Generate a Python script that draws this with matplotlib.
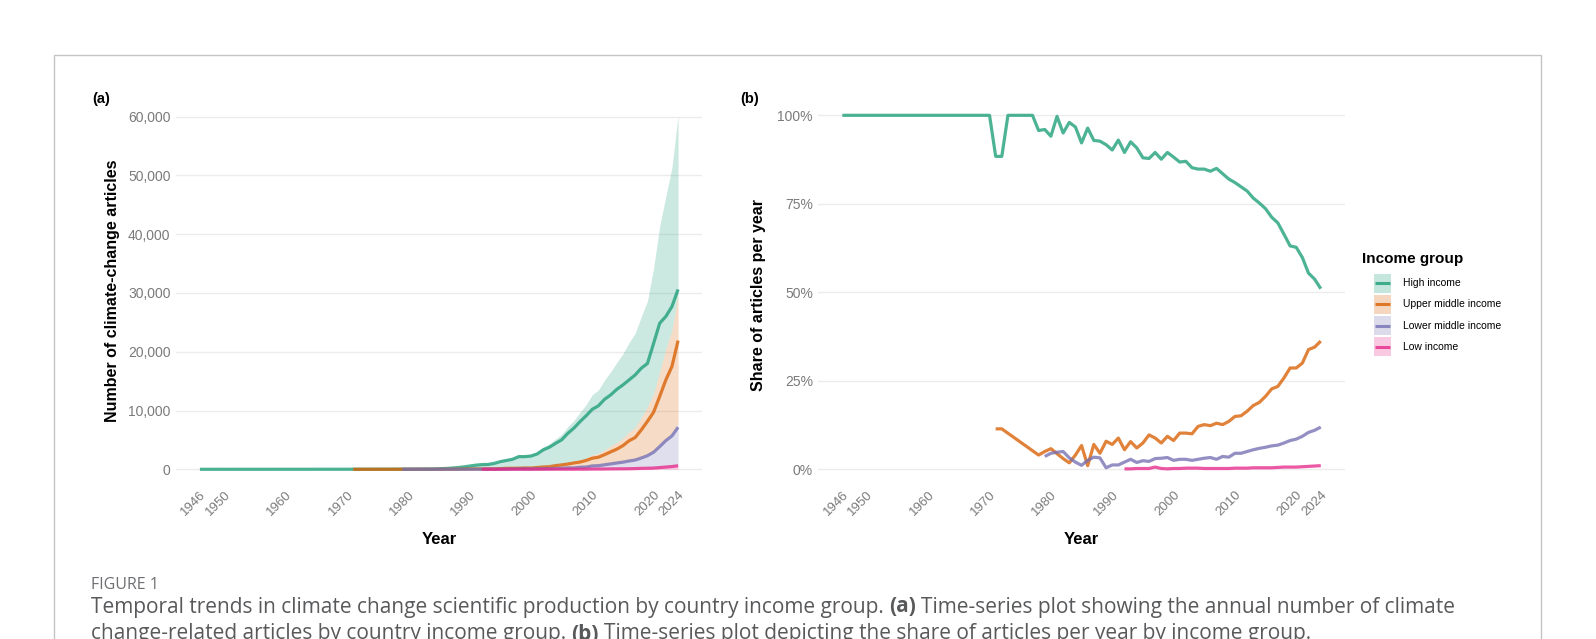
import matplotlib
matplotlib.use("Agg")
import matplotlib.pyplot as plt
from matplotlib.patches import Rectangle
from matplotlib.lines import Line2D
from matplotlib.ticker import FuncFormatter
import numpy as np

plt.rcParams['font.family'] = ['Liberation Sans', 'DejaVu Sans']

groups = ["High income", "Upper middle income", "Lower middle income", "Low income"]
colors = ["#1B9E77", "#D95F02", "#7570B3", "#E7298A"]

# years present for each group
years_high = list(range(1946, 2025))
years_upper = [1971, 1972] + list(range(1978, 2025))
years_lower = list(range(1979, 2025))
years_low = list(range(1992, 2025))

# (a) number of articles per year
count_high = [1, 1, 1, 2, 1, 1, 2, 1, 2, 2, 1, 2, 3, 2, 3, 2, 4, 3, 4, 5, 4, 6, 5, 7,
              8, 8, 8, 9, 10, 12, 14, 15, 22, 24, 32, 40, 38, 49, 58,
              90, 130, 190, 280, 400, 550, 700, 800, 820, 1000, 1300, 1500, 1700, 2150, 2150,
              2250, 2600, 3300, 3750, 4400, 5000, 6100, 7000, 8100, 9100,
              10200, 10800, 11900, 12650, 13600, 14350, 15200, 16050, 17200, 18000,
              21400, 24850, 26000, 27700, 30600]
count_upper = [1, 1, 1, 1, 2, 2, 2, 1, 3, 6, 2, 11, 14, 35,
               45, 65, 50, 70, 65, 110, 165, 170, 180, 225,
               210, 300, 390, 440, 620, 740, 890, 1070, 1230, 1500,
               1880, 2050, 2480, 2960, 3420, 4020, 4850, 5400, 6700, 8150,
               9700, 12400, 15200, 17500, 21900]
count_lower = [1, 1, 2, 2, 2, 1, 1, 3, 5, 9, 2,
               7, 9, 18, 24, 21, 35, 38, 57, 76, 79,
               64, 84, 106, 110, 146, 183, 240, 231, 350, 377,
               570, 610, 760, 910, 1070, 1210, 1410, 1570, 1920, 2310,
               2900, 3860, 4870, 5680, 7150]
count_low = [1, 1, 2, 2, 3, 10, 5, 2, 5, 5, 9, 12, 13, 11, 12, 14, 16, 18, 38, 41,
             46, 66, 72, 78, 86, 115, 155, 171, 205, 290, 375, 465, 600]

# (b) share of articles per year (%)
share_high = [100] * 25 + [88.4, 88.4, 100, 100, 100, 100, 100,
              95.7, 96.0, 94.1, 99.7, 95.0, 98.0, 96.7, 92.2, 96.4, 92.9, 92.7, 91.7,
              90.2, 93.0, 89.5, 92.5, 90.8, 88.0, 87.8, 89.5, 87.6, 89.5,
              88.2, 86.8, 87.0, 85.2, 84.8, 84.8, 84.2, 85.0, 83.5, 82.0,
              81.0, 79.8, 78.6, 76.6, 75.2, 73.6, 71.2, 69.6, 66.4, 63.1,
              62.7, 59.8, 55.4, 53.7, 51.0]
share_upper = [11.4, 11.4, 4.0, 5.0, 5.8, 4.4, 3.0, 1.8, 4.0, 6.7, 1.0, 7.0, 4.5, 7.9,
               7.0, 8.8, 5.5, 7.8, 6.0, 7.4, 9.7, 8.8, 7.4, 9.3,
               8.1, 10.2, 10.2, 10.0, 12.1, 12.6, 12.3, 13.0, 12.6, 13.5,
               14.9, 15.1, 16.4, 18.0, 18.9, 20.6, 22.7, 23.4, 25.8, 28.6,
               28.6, 30.0, 33.8, 34.5, 36.2]
share_lower = [3.6, 4.5, 4.8, 5.0, 3.2, 2.0, 1.1, 2.5, 3.4, 3.2, 0.4,
               1.2, 1.2, 2.0, 2.8, 1.9, 2.4, 2.2, 3.0, 3.1, 3.3,
               2.5, 2.8, 2.8, 2.5, 2.8, 3.1, 3.3, 2.8, 3.6, 3.4,
               4.5, 4.5, 5.0, 5.5, 5.9, 6.2, 6.6, 6.8, 7.4, 8.1,
               8.5, 9.3, 10.4, 11.0, 11.9]
share_low = [0.1, 0.1, 0.2, 0.2, 0.2, 0.6, 0.2, 0.1, 0.2, 0.2, 0.3, 0.3, 0.3, 0.2, 0.2, 0.2,
             0.2, 0.2, 0.3, 0.3, 0.3, 0.4, 0.4, 0.4, 0.4, 0.5, 0.6, 0.6, 0.6, 0.7, 0.8, 0.9, 1.0]

year_ticks = [1946, 1950, 1960, 1970, 1980, 1990, 2000, 2010, 2020, 2024]

all_years = [years_high, years_upper, years_lower, years_low]
all_counts = [count_high, count_upper, count_lower, count_low]
all_shares = [share_high, share_upper, share_lower, share_low]

W, H = 1596, 639
fig = plt.figure(figsize=(W / 100, H / 100), dpi=100)
fig.patch.set_facecolor("white")

# grey frame round the figure
fig.add_artist(Rectangle((54 / W, -0.2), (1541 - 54) / W, 1.2 - 55 / H,
                         transform=fig.transFigure, fill=False, edgecolor="#c4c4c4", lw=1))

ax1 = fig.add_axes([176 / W, 1 - 486.9 / H, 526 / W, 391.4 / H])
ax2 = fig.add_axes([818.4 / W, 1 - 486.9 / H, 526.3 / W, 391.4 / H])

# stacked areas (high on top of upper middle on top of lower middle on top of low)
full = np.array(years_high)
stack = []
for yrs, cnt in zip(all_years, all_counts):
    s = np.zeros(len(full))
    s[np.searchsorted(full, yrs)] = cnt
    stack.append(s)
for i, (yrs, c) in enumerate(zip(all_years, colors)):
    top = np.sum(stack[i:], axis=0)
    bottom = np.sum(stack[i + 1:], axis=0) if i < 3 else np.zeros(len(full))
    mask = full >= yrs[0]
    ax1.fill_between(full[mask], bottom[mask], top[mask], color=c, alpha=0.22, lw=0)

for yrs, cnt, c in zip(all_years, all_counts, colors):
    ax1.plot(yrs, cnt, color=c, lw=2.3, alpha=0.78, solid_capstyle="butt")

for yrs, sh, c in zip(all_years, all_shares, colors):
    ax2.plot(yrs, np.array(sh) / 100, color=c, lw=2.3, alpha=0.78, solid_capstyle="butt")

ax1.set_ylim(-3000, 63600)
ax1.set_yticks([0, 10000, 20000, 30000, 40000, 50000, 60000])
ax1.yaxis.set_major_formatter(FuncFormatter(lambda v, p: f"{int(v):,}"))
ax2.set_ylim(-0.05, 1.056)
ax2.set_yticks([0, 0.25, 0.5, 0.75, 1.0])
ax2.yaxis.set_major_formatter(FuncFormatter(lambda v, p: f"{int(round(v * 100))}%"))

for ax in (ax1, ax2):
    ax.set_xlim(1942.1, 2027.9)
    ax.set_xticks(year_ticks)
    ax.set_xticklabels([str(y) for y in year_ticks], rotation=45, ha="right", va="top",
                       rotation_mode="anchor")
    for s in ax.spines.values():
        s.set_visible(False)
    ax.tick_params(length=0, labelsize=10, labelcolor="#7a7a7a")
    ax.tick_params(axis="x", labelsize=9.5, pad=1)
    ax.tick_params(axis="y", pad=4)
    ax.yaxis.grid(True, color="#ececec", lw=1)
    ax.set_axisbelow(True)
    ax.set_facecolor("none")

fig.text(113 / W, 1 - 291 / H, "Number of climate-change articles", rotation=90,
         ha="center", va="center", fontsize=11.5, fontweight="bold")
fig.text(759 / W, 1 - 295 / H, "Share of articles per year", rotation=90,
         ha="center", va="center", fontsize=11.5, fontweight="bold")
fig.text(439 / W, 1 - 540 / H, "Year", ha="center", va="center", fontsize=12, fontweight="bold")
fig.text(1081 / W, 1 - 540 / H, "Year", ha="center", va="center", fontsize=12, fontweight="bold")
fig.text(92 / W, 1 - 99 / H, "(a)", ha="left", va="center", fontsize=10.5, fontweight="bold")
fig.text(740 / W, 1 - 99 / H, "(b)", ha="left", va="center", fontsize=10.5, fontweight="bold")

# legend, built by hand: title, then a filled key with a line across it per group
fig.text(1362 / W, 1 - 259 / H, "Income group", ha="left", va="center",
         fontsize=11, fontweight="bold")
key_x, key_w, key_h = 1374, 17, 19
for i, (g, c) in enumerate(zip(groups, colors)):
    cy = 283 + i * 21.3
    fig.add_artist(Rectangle((key_x / W, 1 - (cy + key_h / 2) / H), key_w / W, key_h / H,
                             transform=fig.transFigure, facecolor=c, alpha=0.25, lw=0))
    fig.add_artist(Line2D([(key_x + 1) / W, (key_x + key_w - 1) / W], [1 - cy / H, 1 - cy / H],
                          transform=fig.transFigure, color=c, lw=2.2, alpha=0.8,
                          solid_capstyle="butt"))
    fig.text(1403 / W, 1 - cy / H, g, ha="left", va="center", fontsize=7.5)

# caption
fig.text(91 / W, 1 - 585 / H, "FIGURE 1", fontsize=11.5, color="#6d6e71",
         family=["Open Sans", "DejaVu Sans"], va="center")
renderer = fig.canvas.get_renderer()


def caption_line(segments, x0, y, size=15):
    x = x0
    fam = ["Open Sans", "DejaVu Sans"]
    probe = fig.text(0, 0, "x x", fontsize=size, family=fam)
    probe2 = fig.text(0, 0, "xx", fontsize=size, family=fam)
    gap = probe.get_window_extent(renderer).width - probe2.get_window_extent(renderer).width
    probe.remove()
    probe2.remove()
    for txt, bold in segments:
        t = fig.text(x / W, 1 - y / H, txt, fontsize=size, color="#58595b",
                     fontweight="bold" if bold else "normal", family=fam, va="center")
        x = t.get_window_extent(renderer).x1 + gap


caption_line([("Temporal trends in climate change scientific production by country income group.", False),
              ("(a)", True),
              ("Time-series plot showing the annual number of climate", False)], 91, 607)
caption_line([("change-related articles by country income group.", False),
              ("(b)", True),
              ("Time-series plot depicting the share of articles per year by income group.", False)], 91, 634)

fig.savefig("out.png", dpi=100, facecolor="white")
